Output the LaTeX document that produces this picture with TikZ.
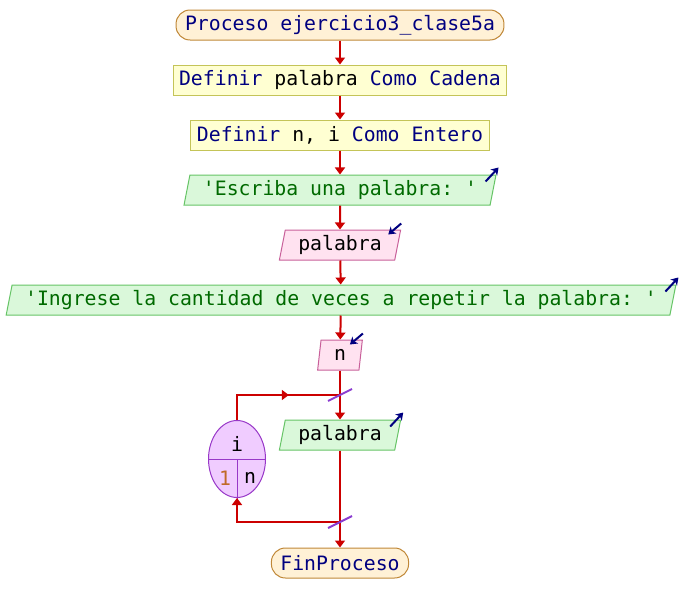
\documentclass[tikz,border=0pt]{standalone}
\usepackage{fontspec}
\setmonofont{DejaVu Sans Mono}
\usetikzlibrary{shapes.geometric,arrows.meta,decorations.markings}
\definecolor{kwblue}{HTML}{000080}
\definecolor{strgreen}{HTML}{006A00}
\definecolor{flowred}{HTML}{CC0000}
\definecolor{termfill}{HTML}{FFF1D6}
\definecolor{termline}{HTML}{C08838}
\definecolor{deffill}{HTML}{FFFFD2}
\definecolor{defline}{HTML}{C4C458}
\definecolor{outfill}{HTML}{DAF8DA}
\definecolor{outline}{HTML}{66C466}
\definecolor{infill}{HTML}{FFE2F0}
\definecolor{inline}{HTML}{C8609A}
\definecolor{cicfill}{HTML}{F0CCFF}
\definecolor{cicline}{HTML}{9838C8}
\definecolor{slashviolet}{HTML}{8A3CD0}
\definecolor{numorange}{HTML}{C06A28}
\newcommand{\kw}[1]{\textcolor{kwblue}{#1}}
\newcommand{\txt}[1]{\textcolor{strgreen}{#1}}

\begin{document}
\begin{tikzpicture}[x=1pt,y=-1pt,
    font=\ttfamily\fontsize{19.8}{22}\selectfont,
    blk/.style={minimum height=30pt, inner ysep=0pt, line width=1pt},
    term/.style={blk, draw=termline, fill=termfill, rounded corners=14pt, inner xsep=9pt},
    defbox/.style={blk, draw=defline, fill=deffill, inner xsep=6pt},
    outbox/.style={blk, trapezium, trapezium left angle=73, trapezium right angle=107,
        trapezium stretches=true, draw=outline, fill=outfill, inner xsep=13pt},
    inbox/.style={outbox, draw=inline, fill=infill},
    flow/.style={flowred, line width=2pt, -{Triangle[width=10pt,length=7pt]}},
    link/.style={flowred, line width=2pt},
    slash/.style={slashviolet, line width=2pt},
    ioarrow/.style={kwblue, line width=2pt, -{Stealth[width=9pt,length=7pt,inset=2pt]}}]

    \useasboundingbox (0,0) rectangle (680,613);

    % bloques
    \node[term]   (inicio) at (340,25)  {\kw{Proceso ejercicio3\_clase5a}};
    \node[defbox] (def1)   at (340,80)  {\kw{Definir} palabra \kw{Como Cadena}};
    \node[defbox] (def2)   at (340,135) {\kw{Definir} n, i \kw{Como Entero}};
    \node[outbox] (esc1)   at (340,190) {\txt{\textquotesingle Escriba una palabra: \textquotesingle}};
    \node[inbox]  (lee1)   at (340,245) {palabra};
    \node[outbox] (esc2)   at (341,300) {\txt{\textquotesingle Ingrese la cantidad de veces a repetir la palabra: \textquotesingle}};
    \node[inbox]  (lee2)   at (340,355) {n};
    \node[outbox] (esc3)   at (340,435) {palabra};
    \node[term]   (fin)    at (340,563) {\kw{FinProceso}};

    % ciclo para
    \node[ellipse, draw=cicline, fill=cicfill, line width=1pt, inner sep=0pt,
        minimum width=57pt, minimum height=77pt] (ciclo) at (237,459) {};
    \draw[cicline, line width=1pt] (ciclo.west) -- (ciclo.east);
    \draw[cicline, line width=1pt] (ciclo.center) -- ([yshift=-4pt]ciclo.south);
    \node (ivar) at (237,444) {i};
    \node[text=numorange] (ini) at (225,478) {1};
    \node (fvar) at (250,478) {n};

    \coordinate (jtop) at (340,395);
    \coordinate (jbot) at (340,522);

    % conectores
    \draw[flow] (inicio) -- (def1);
    \draw[flow] (def1) -- (def2);
    \draw[flow] (def2) -- (esc1);
    \draw[flow] (esc1) -- (lee1);
    \draw[flow] (lee1) -- (esc2);
    \draw[flow] (esc2) -- (lee2);
    \draw[link] (lee2) -- (jtop);
    \draw[flow] (jtop) -- (esc3);
    \draw[link] (esc3) -- (jbot);
    \draw[flow] (jbot) -- (fin);
    \draw[flow] (jbot) -| (ciclo.south);
    \draw[link, postaction={decorate}, decoration={markings,
        mark=at position 0.6 with {\arrow{Triangle[width=10pt,length=7pt]}}}]
        (ciclo.north) |- (jtop);
    \foreach \j in {jtop,jbot}
        \draw[slash] ([shift={(-12,6)}]\j) -- ([shift={(12,-6)}]\j);

    % flechas de entrada/salida
    \foreach \n in {esc1,esc2,esc3}
        \draw[ioarrow] ([shift={(-11,7)}]\n.top right corner) -- ++(13,-14);
    \foreach \n in {lee1,lee2}
        \draw[ioarrow] ([shift={(0,-6)}]\n.top right corner) -- ++(-13,11);
\end{tikzpicture}
\end{document}
